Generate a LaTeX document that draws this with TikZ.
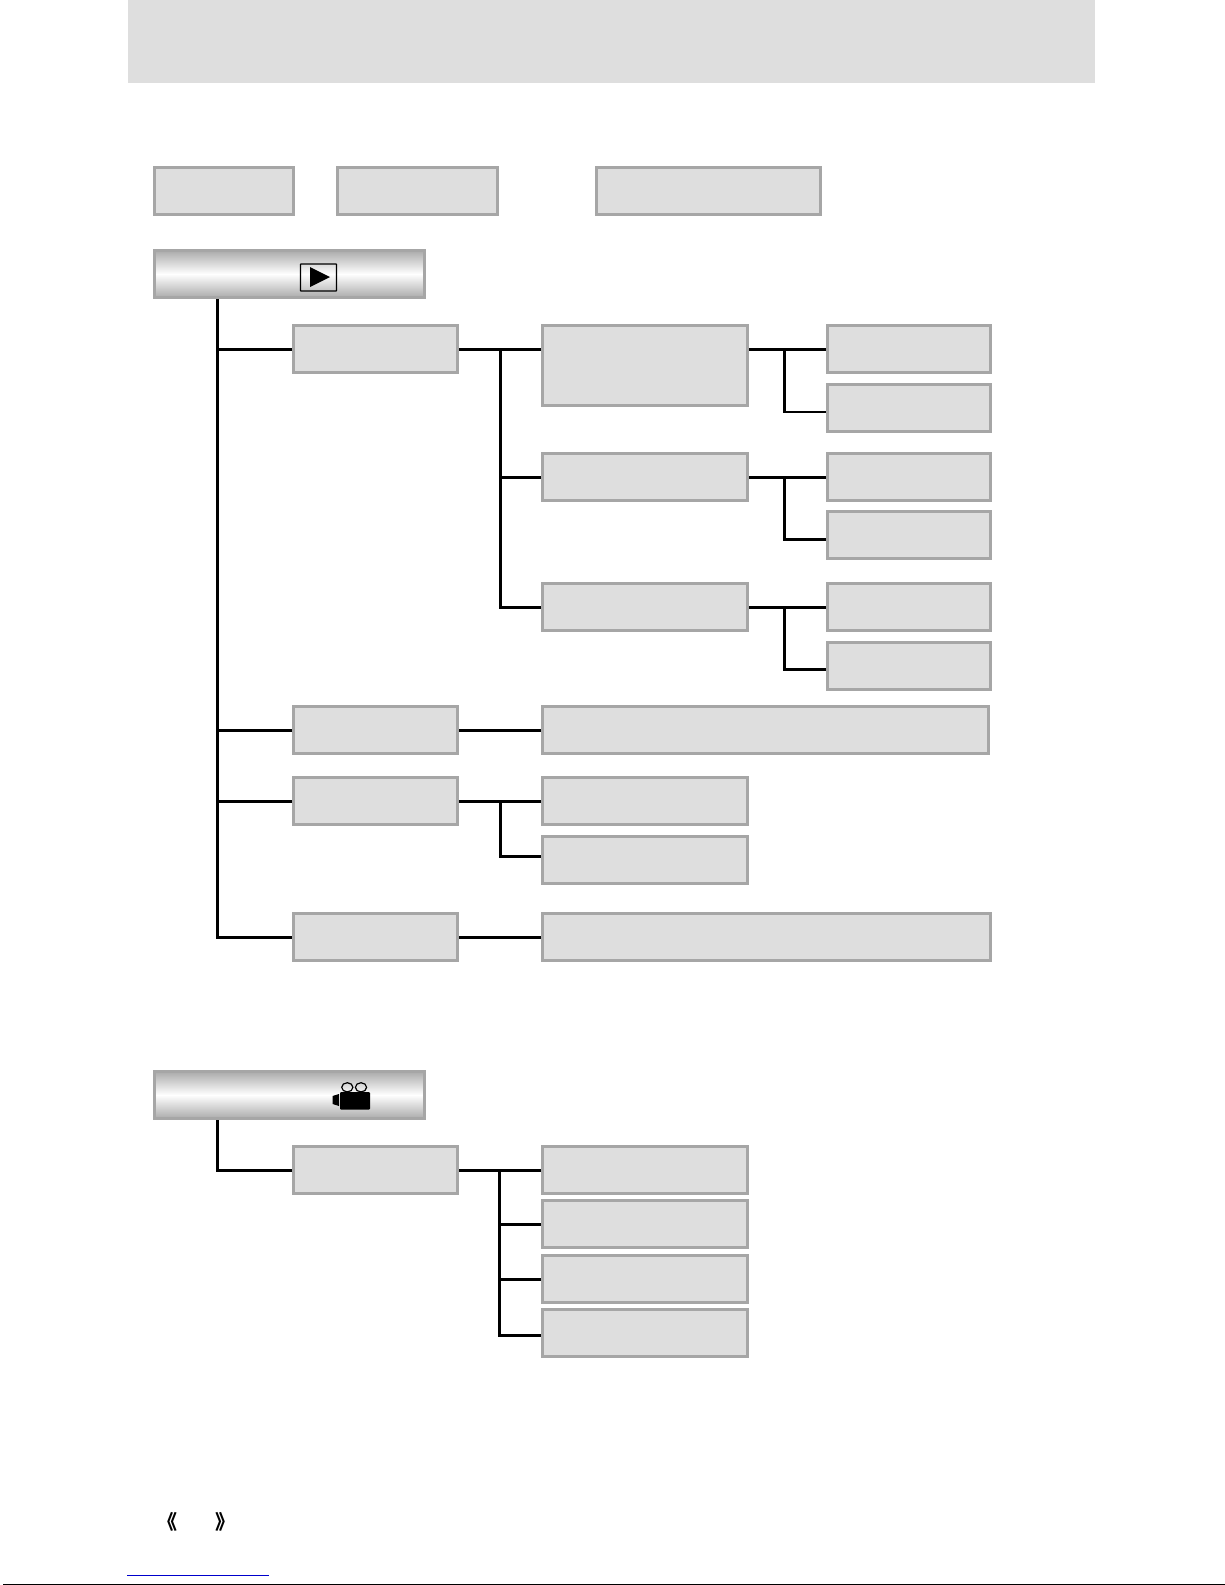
\documentclass[tikz,border=0pt]{standalone}
\usepackage{fontspec}
\newfontfamily\cjkfont{Noto Sans CJK SC}
\definecolor{boxfill}{HTML}{DEDEDE}
\definecolor{boxline}{HTML}{A6A6A6}
\definecolor{headgrey}{HTML}{ABABAB}
\definecolor{linkblue}{HTML}{0000CC}
\tikzset{
	greybox/.style={draw=boxline, fill=boxfill, line width=3pt, inner sep=0pt, minimum height=47pt},
	colbox/.style={greybox, minimum width=164pt},
	widebox/.style={greybox, minimum width=205pt},
	leafbox/.style={greybox, minimum width=163pt},
	headbox/.style={draw=boxline, line width=3pt, inner sep=0pt, minimum width=270pt, minimum height=47pt,
		top color=headgrey, bottom color=headgrey, middle color=white},
	conn/.style={line width=3pt},
	thinconn/.style={line width=2.3pt},
	markfont/.style={font=\cjkfont\bfseries\fontsize{20pt}{20pt}\selectfont, inner sep=0pt}
}
\begin{document}
\begin{tikzpicture}[x=1pt, y=-1pt]
	\useasboundingbox (0,0) rectangle (1225,1585);
	\fill[boxfill] (128,0) rectangle (1094.5,83);

	% top row
	\node[greybox, minimum width=139pt] (tabone) at (224,191) {};
	\node[greybox, minimum width=160pt] (tabtwo) at (417.5,191) {};
	\node[greybox, minimum width=224pt] (tabthree) at (708.5,191) {};

	% play section
	\node[headbox] (playhead) at (289.5,274) {};
	\node[draw, line width=1.2pt, rounded corners=0.5pt, inner sep=0pt, minimum width=36pt, minimum height=27pt] (playicon) at (318.5,277.5) {};
	\fill (310,267) -- (330,277) -- (310,287) -- cycle;

	\node[colbox] (showmode) at (375.5,349) {};
	\node[widebox, minimum height=80pt] (onshow) at (645,365.5) {};
	\node[leafbox] (onshowa) at (909,349) {};
	\node[leafbox] (onshowb) at (909,408) {};
	\node[widebox] (interval) at (645,477) {};
	\node[leafbox] (intervala) at (909,477) {};
	\node[leafbox] (intervalb) at (909,535) {};
	\node[widebox] (effect) at (645,607) {};
	\node[leafbox] (effecta) at (909,607) {};
	\node[leafbox] (effectb) at (909,666) {};

	\node[colbox] (rowtwo) at (375.5,730) {};
	\node[greybox, minimum width=446pt] (rowtwolong) at (765.5,730) {};
	\node[colbox] (rowthree) at (375.5,801) {};
	\node[widebox] (rowthreea) at (645,801) {};
	\node[widebox] (rowthreeb) at (645,860) {};
	\node[colbox] (rowfour) at (375.5,937) {};
	\node[greybox, minimum width=447.5pt] (rowfourlong) at (766.25,937) {};

	% trunk of the play section
	\coordinate (playtrunk) at (217.3,299);
	\draw[conn] (playtrunk) -- (playtrunk |- rowfour.west) -- (rowfour.west);
	\draw[conn] (playtrunk |- showmode.west) -- (showmode.west);
	\draw[conn] (playtrunk |- rowtwo.west) -- (rowtwo.west);
	\draw[conn] (playtrunk |- rowthree.west) -- (rowthree.west);

	\coordinate (showjoin) at (500.7,349);
	\draw[conn] (showmode.east) -- (showmode.east -| onshow.west);
	\draw[conn] (showjoin) -- (showjoin |- effect.west) -- (effect.west);
	\draw[conn] (showjoin |- interval.west) -- (interval.west);

	\coordinate (onshowjoin) at (784.5,349);
	\draw[conn] (onshowjoin -| onshow.east) -- (onshowa.west);
	\draw[thinconn] (onshowjoin) |- ([yshift=-3.7pt]onshowb.west);
	\coordinate (intervaljoin) at (784.5,477);
	\draw[conn] (interval.east) -- (intervala.west);
	\draw[conn] (intervaljoin) |- ([yshift=-4pt]intervalb.west);
	\coordinate (effectjoin) at (784.5,607);
	\draw[conn] (effect.east) -- (effecta.west);
	\draw[conn] (effectjoin) |- ([yshift=-3.3pt]effectb.west);

	\draw[conn] (rowtwo.east) -- (rowtwolong.west);
	\coordinate (rowthreejoin) at (500.7,801);
	\draw[conn] (rowthree.east) -- (rowthreea.west);
	\draw[conn] (rowthreejoin) |- ([yshift=4pt]rowthreeb.west);
	\draw[conn] (rowfour.east) -- (rowfourlong.west);

	% movie section
	\node[headbox] (moviehead) at (289.5,1095) {};
	\fill[rounded corners=1pt] (340,1092) rectangle (370,1109.5);
	\fill (332.5,1096) -- (339,1094) -- (339,1106) -- (332.5,1104) -- cycle;
	\draw[line width=1.2pt] (347.3,1087.3) ellipse (5.6 and 4.6);
	\draw[line width=1.2pt] (361,1087.3) ellipse (5.6 and 4.6);

	\node[colbox] (moviemode) at (375.5,1170) {};
	\node[widebox] (moviea) at (645,1170) {};
	\node[widebox] (movieb) at (645,1224) {};
	\node[widebox] (moviec) at (645,1279) {};
	\node[widebox] (movied) at (645,1333) {};

	\coordinate (movietrunk) at (217.3,1120);
	\draw[conn] (movietrunk) |- (moviemode.west);
	\coordinate (moviejoin) at (499.5,1170);
	\draw[conn] (moviemode.east) -- (moviea.west);
	\draw[conn] (moviejoin) |- ([yshift=-2.3pt]movied.west);
	\draw[conn] (moviejoin |- movieb.west) -- (movieb.west);
	\draw[conn] (moviejoin |- moviec.west) -- (moviec.west);

	% page foot
	\node[markfont] (leftmark) at (167,1522) {《};
	\node[markfont] (rightmark) at (225,1522) {》};
	\draw[linkblue, line width=1.2pt] (127,1575.2) -- (269,1575.2);
	\draw[line width=1pt] (3,1584.4) -- (1225,1584.4);
\end{tikzpicture}
\end{document}
